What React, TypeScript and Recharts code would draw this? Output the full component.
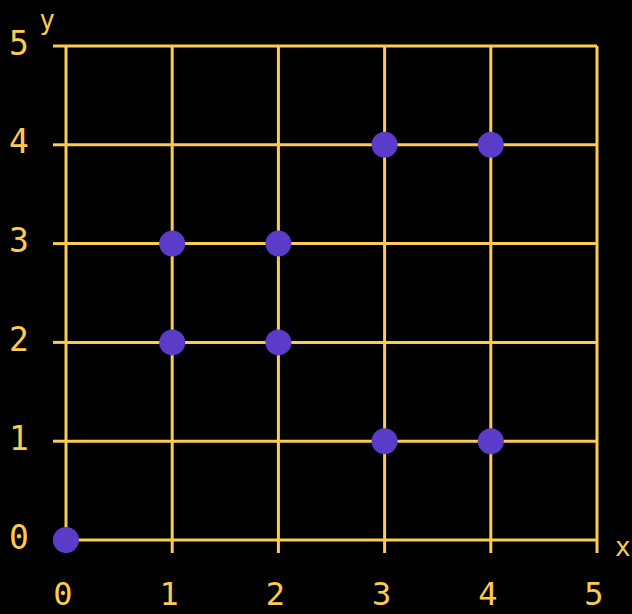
import React from 'react';
import { ScatterChart, Scatter, XAxis, YAxis, CartesianGrid } from 'recharts';

const xTicks = [0, 1, 2, 3, 4, 5];
const yTicks = [0, 1, 2, 3, 4, 5];
const pointX = [0, 1, 1, 2, 2, 3, 4, 3, 4];
const pointY = [0, 2, 3, 2, 3, 4, 4, 1, 1];

const points = pointX.map((x, i) => ({ x, y: pointY[i] }));

const YELLOW = '#FECB52';
const PURPLE = '#5B3CC8';
const FONT = '"DejaVu Sans Mono", monospace';

const YTick = (props: any) => {
  const { x, y, payload } = props;
  return (
    <text x={x - 32} y={y - 3} textAnchor="middle" dominantBaseline="central" fill={YELLOW} fontFamily={FONT} fontSize={33}>
      {payload.value}
    </text>
  );
};

const XTick = (props: any) => {
  const { x, y, payload } = props;
  return (
    <text x={x - 3} y={y + 39} textAnchor="middle" dominantBaseline="central" fill={YELLOW} fontFamily={FONT} fontSize={32}>
      {payload.value}
    </text>
  );
};

const Dot = (props: any) => <circle cx={props.cx} cy={props.cy} r={13} fill={PURPLE} />;

export default function App() {
  return (
    <div style={{ position: 'absolute', left: 0, top: 0, width: 632, height: 614, background: '#000' }}>
      <ScatterChart width={632} height={614} margin={{ top: 46, right: 35, bottom: 0, left: 0 }}>
        <CartesianGrid stroke={YELLOW} strokeWidth={3} />
        <XAxis
          type="number"
          dataKey="x"
          domain={[0, 5]}
          ticks={xTicks}
          height={74}
          axisLine={false}
          tickSize={13}
          tickLine={{ stroke: YELLOW, strokeWidth: 3 }}
          tick={<XTick />}
          interval={0}
          label={{ value: 'x', position: 'right', dx: 13, dy: -30, fill: YELLOW, fontFamily: FONT, fontSize: 26 }}
        />
        <YAxis
          type="number"
          dataKey="y"
          domain={[0, 5]}
          ticks={yTicks}
          width={66}
          axisLine={false}
          tickSize={13}
          tickLine={{ stroke: YELLOW, strokeWidth: 3 }}
          tick={<YTick />}
          interval={0}
          label={{ value: 'y', position: 'top', dx: 14, dy: -12, fill: YELLOW, fontFamily: FONT, fontSize: 26 }}
        />
        <Scatter data={points} shape={<Dot />} isAnimationActive={false} />
      </ScatterChart>
    </div>
  );
}
